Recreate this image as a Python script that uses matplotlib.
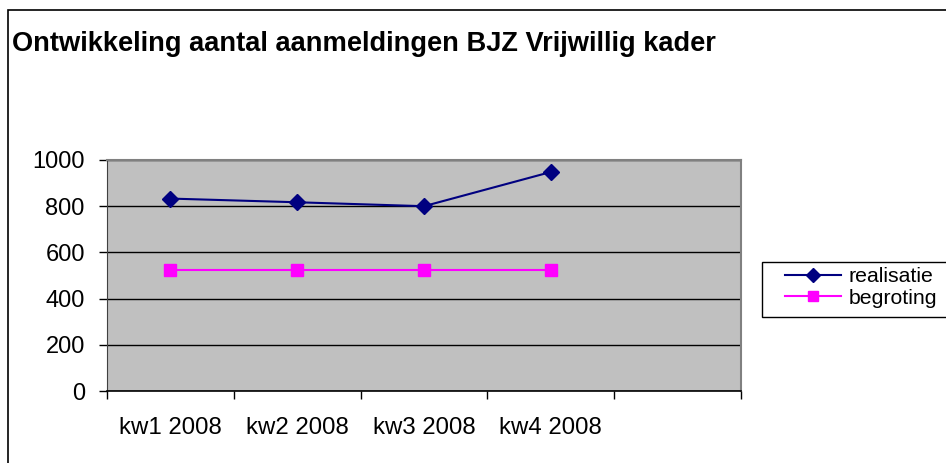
import matplotlib.pyplot as plt
from matplotlib.patches import Rectangle

categories = ["kw1 2008", "kw2 2008", "kw3 2008", "kw4 2008", ""]
realisatie = [833, 817, 800, 948]
begroting = [525, 525, 525, 525]
yticks = [0, 200, 400, 600, 800, 1000]

plt.rcParams['font.family'] = ['Liberation Sans', 'DejaVu Sans']

fig = plt.figure(figsize=(9.46, 4.63), dpi=100)
# outer chart frame
fig.patches.append(Rectangle((8 / 946, -0.05), 1.0, 1 - 10 / 463 + 0.05,
                             transform=fig.transFigure, fill=False,
                             edgecolor='black', linewidth=1.2))
# legend box (runs off the right edge like the original)
fig.patches.append(Rectangle((762 / 946, 1 - 317 / 463), 0.3, 55 / 463,
                             transform=fig.transFigure, fill=True,
                             facecolor='white', edgecolor='black', linewidth=1))

ax = fig.add_axes([107 / 946, 1 - 391 / 463, 634 / 946, 231 / 463])
ax.set_facecolor('#C0C0C0')

x = range(len(realisatie))
ax.plot(x, realisatie, color='#000080', marker='D', markersize=8,
        linewidth=1.5, label='realisatie')
ax.plot(x, begroting, color='#FF00FF', marker='s', markersize=8,
        linewidth=1.5, label='begroting')

ax.set_xlim(-0.5, len(categories) - 0.5)
ax.set_ylim(0, 1000)
ax.set_yticks(yticks)
ax.yaxis.grid(True, color='black', linewidth=1)
ax.set_axisbelow(True)
ax.tick_params(axis='y', direction='out', length=6, width=1, labelsize=17, pad=10)

# tick marks between categories, labels in the middle
ax.set_xticks([i - 0.5 for i in range(len(categories) + 1)])
ax.set_xticklabels([])
ax.set_xticks(range(len(categories)), minor=True)
ax.set_xticklabels(categories, minor=True, fontsize=17.3)
ax.tick_params(axis='x', which='major', direction='out', length=6, width=1)
ax.tick_params(axis='x', which='minor', length=0, pad=19)

for side in ['top', 'right']:
    ax.spines[side].set_color('#808080')
    ax.spines[side].set_linewidth(1.5)
ax.spines['left'].set_color('#404040')
ax.spines['bottom'].set_color('black')
ax.spines['bottom'].set_linewidth(1.2)

fig.text(12 / 946, 1 - 44 / 463, "Ontwikkeling aantal aanmeldingen BJZ Vrijwillig kader",
         fontsize=19.6, fontweight='bold', va='center', ha='left')

leg = fig.legend(loc='upper left', bbox_to_anchor=(785 / 946, 1 - 267 / 463),
                 fontsize=15.3, frameon=False, markerscale=0.85,
                 handlelength=2.65, borderpad=0, labelspacing=0.12,
                 handletextpad=0.35, borderaxespad=0)

fig.savefig("out.png", dpi=100)
